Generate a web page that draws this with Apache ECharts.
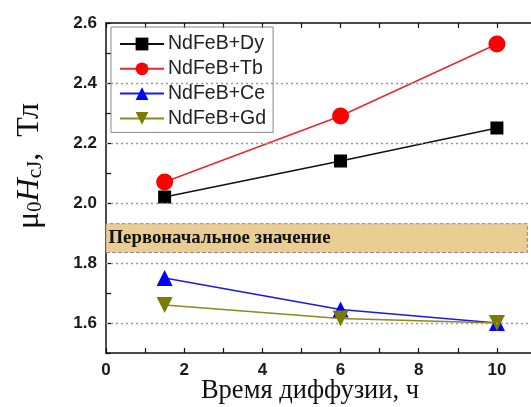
<!DOCTYPE html>
<html>
<head>
<meta charset="utf-8">
<script src="https://cdn.jsdelivr.net/npm/echarts@6/dist/echarts.min.js"></script>
<style>
html,body{margin:0;padding:0;background:#fff;}
#chart{width:531px;height:407px;}
</style>
</head>
<body>
<div id="chart"></div>
<script>
const xValues = [1.5, 6, 10];
const seriesNames = ['NdFeB+Dy', 'NdFeB+Tb', 'NdFeB+Ce', 'NdFeB+Gd'];
const dyValues = [2.02, 2.14, 2.25];
const tbValues = [2.07, 2.29, 2.53];
const ceValues = [1.75, 1.645, 1.60];
const gdValues = [1.66, 1.615, 1.60];
const gridLineValues = [1.6, 1.8, 2.0, 2.2, 2.4];
const bandRange = [1.835, 1.931];
const bandLabel = 'Первоначальное значение';
const xTitle = 'Время диффузии, ч';

const chart = echarts.init(document.getElementById('chart'), null, {renderer: 'canvas'});

function pairs(vals) { return xValues.map((x, i) => [x, vals[i]]); }

const tickFont = {fontFamily: 'Liberation Sans, Arial, sans-serif', fontWeight: 'bold', fontSize: 17, color: '#1a1a1a'};
const serif = 'Liberation Serif, Times New Roman, serif';

const option = {
  animation: false,
  backgroundColor: '#fff',
  grid: {left: 106, top: 23, right: -5, bottom: 54, containLabel: false, outerBoundsMode: 'none'},
  legend: {
    left: 111, top: 27, orient: 'vertical',
    data: seriesNames,
    itemWidth: 44, itemHeight: 16, itemGap: 4.8,
    padding: [7, 7, 4, 8],
    borderColor: '#888', borderWidth: 1,
    textStyle: {fontFamily: 'Liberation Sans, Arial, sans-serif', fontSize: 19.5, color: '#222', padding: [0,0,0,-1]}
  },
  xAxis: [{
    type: 'value', min: 0, max: 11, interval: 1,
    axisLine: {lineStyle: {color: '#111', width: 1.5}},
    axisTick: {inside: true, length: 5, lineStyle: {color: '#111', width: 1.2}},
    axisLabel: Object.assign({margin: 9, formatter: v => (Math.round(v) % 2 === 0 ? String(Math.round(v)) : '')}, tickFont),
    splitLine: {show: false}
  }, {
    type: 'value', min: 0, max: 11, interval: 1, position: 'top',
    axisLine: {lineStyle: {color: '#111', width: 1.5}},
    axisTick: {inside: true, length: 5, lineStyle: {color: '#111', width: 1.2}},
    axisLabel: {show: false}, splitLine: {show: false}
  }],
  yAxis: [{
    type: 'value', min: 1.5, max: 2.6, interval: 0.1,
    axisLine: {show: true, lineStyle: {color: '#111', width: 1.5}},
    axisTick: {show: true, inside: true, length: 5, lineStyle: {color: '#111', width: 1.2}},
    axisLabel: Object.assign({margin: 9, formatter: v => {
      const t = Math.round(v * 10);
      return (t % 2 === 0 && t >= 16) ? (t / 10).toFixed(1) : '';
    }}, tickFont),
    splitLine: {show: false}
  }],
  graphic: [{
    type: 'text', x: 30, y: 166, rotation: Math.PI / 2,
    style: {
      text: '{m|μ}{s|0}{i|H}{s|cJ}{m|,  Тл}',
      align: 'center', verticalAlign: 'middle',
      rich: {
        m: {fontFamily: serif, fontSize: 32, fill: '#111'},
        i: {fontFamily: serif, fontSize: 32, fontStyle: 'italic', fill: '#111'},
        s: {fontFamily: serif, fontSize: 21, fill: '#111', verticalAlign: 'bottom', padding: [10,0,0,0]}
      }
    }
  }, {
    type: 'text', x: 310, y: 391,
    style: {text: xTitle, align: 'center', verticalAlign: 'middle', fontFamily: serif, fontSize: 26.5, fill: '#111'}
  }],
  series: [
    {
      name: '__bg', type: 'line', data: [], silent: true,
      markLine: {
        silent: true, symbol: ['none', 'none'], label: {show: false},
        lineStyle: {type: [2, 3], color: '#9a9a9a', width: 1.3},
        data: gridLineValues.map(v => ({yAxis: v}))
      },
      markArea: {
        silent: true,
        itemStyle: {color: '#eacd92', borderColor: '#a08090', borderWidth: 1, borderType: 'dashed'},
        label: {
          show: true, position: 'insideLeft', distance: 3,
          fontFamily: serif, fontWeight: 'bold', fontSize: 18.8, color: '#111'
        },
        data: [[{name: bandLabel, yAxis: bandRange[0], xAxis: 0}, {yAxis: bandRange[1], xAxis: 10.78}]]
      }
    },
    {
      name: seriesNames[0], type: 'line', data: pairs(dyValues),
      symbol: 'rect', symbolSize: 13,
      lineStyle: {color: '#111', width: 1.5}, itemStyle: {color: '#000'}
    },
    {
      name: seriesNames[1], type: 'line', data: pairs(tbValues),
      symbol: 'circle', symbolSize: 17,
      lineStyle: {color: '#e8282d', width: 1.5}, itemStyle: {color: '#ff0000'}
    },
    {
      name: seriesNames[2], type: 'line', data: pairs(ceValues),
      symbol: 'triangle', symbolSize: 16,
      lineStyle: {color: '#1a1ae6', width: 1.5}, itemStyle: {color: '#0000ff'}
    },
    {
      name: seriesNames[3], type: 'line', data: pairs(gdValues),
      symbol: 'path://M0,0 L10,0 L5,9 Z', symbolSize: 16,
      lineStyle: {color: '#8a8a1e', width: 1.5}, itemStyle: {color: '#7b7b00'}
    }
  ]
};
chart.setOption(option);
</script>
</body>
</html>
